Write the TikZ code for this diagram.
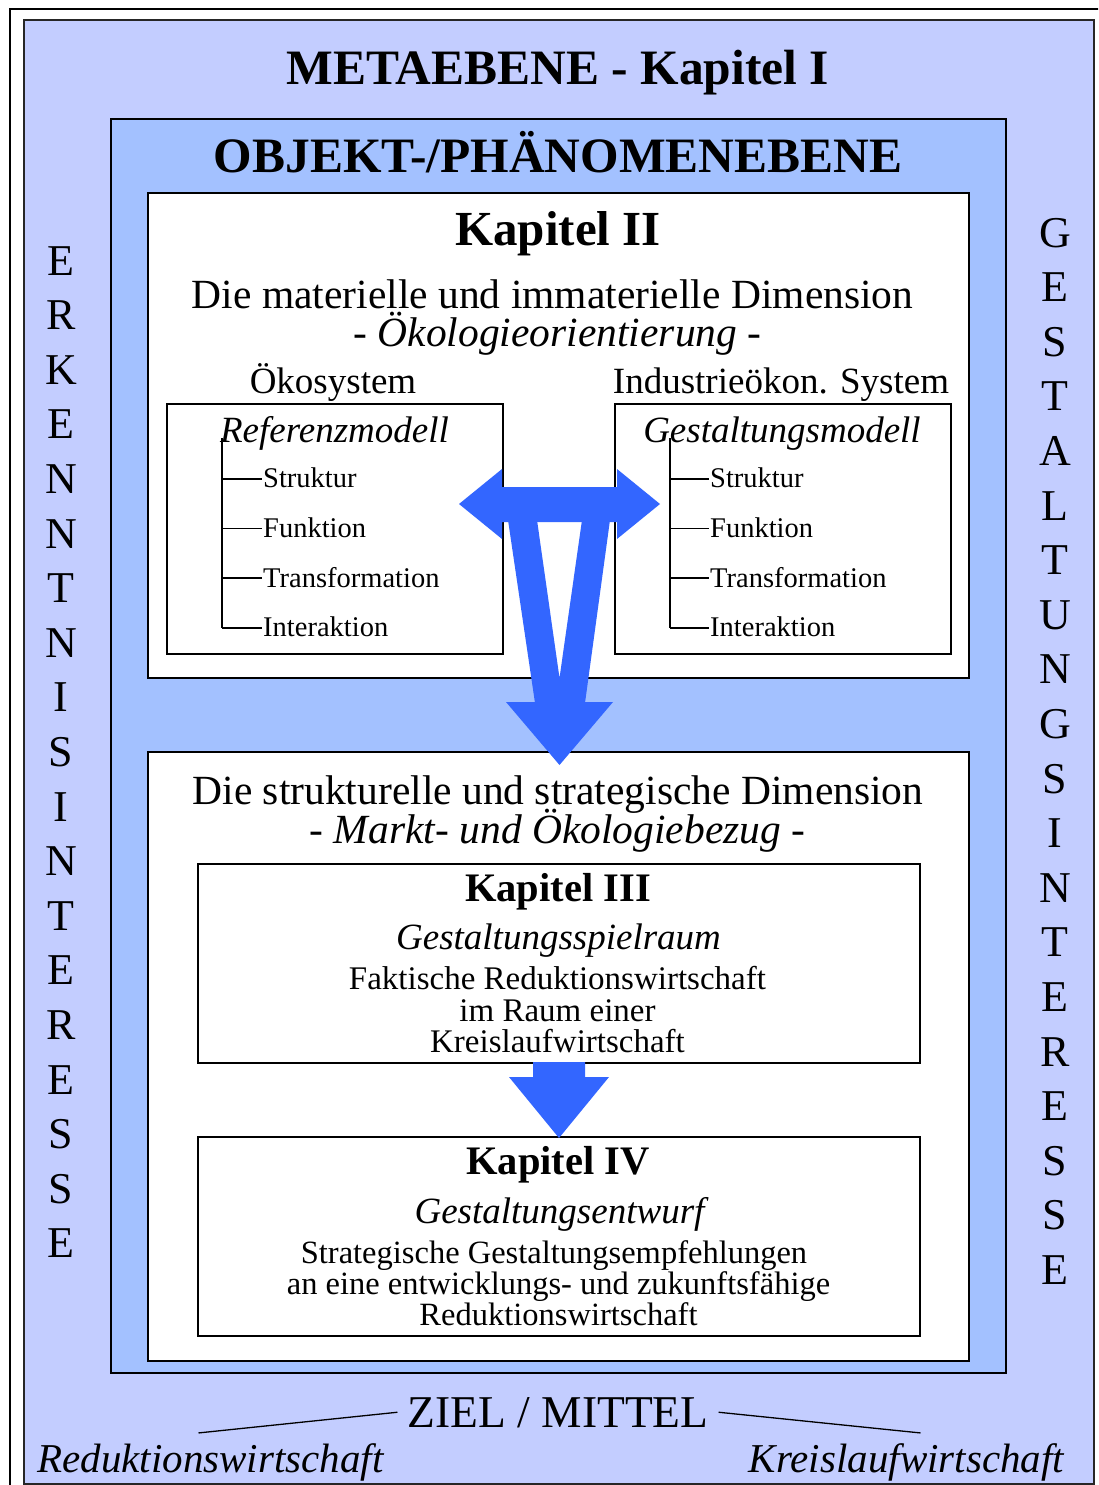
\documentclass[tikz,border=0pt]{standalone}
\usepackage{fontspec}
\setmainfont{Liberation Serif}
\usetikzlibrary{positioning}
\usetikzlibrary{calc}
\definecolor{metablau}{HTML}{C3CDFF}
\definecolor{objektblau}{HTML}{A3C1FF}
\definecolor{pfeilblau}{HTML}{3366FF}

\begin{document}
\begin{tikzpicture}[x=1pt,y=-1pt]
  \tikzset{
    txt/.style={inner sep=0pt,anchor=base,font=\fontsize{#1}{#1}\selectfont},
    ktxt/.style={inner sep=0pt,anchor=base,font=\fontsize{#1}{#1}\selectfont\itshape},
    btxt/.style={inner sep=0pt,anchor=base,font=\fontsize{#1}{#1}\selectfont\bfseries},
    punkt/.style={inner sep=0pt,anchor=base west,font=\fontsize{28.5}{28.5}\selectfont},
    rahmen/.style={line width=1.6pt,fill=white},
    ast/.style={line width=1.6pt},
    pfeil/.style={fill=pfeilblau,draw=none},
  }
    \useasboundingbox (0,0) rectangle (1098,1485);
    \clip (0,0) rectangle (1098,1485);

    %FRAMES
    \draw[line width=2.6pt] (10,9) rectangle (1120,1500);
    \draw[line width=1.2pt,draw=black!85,fill=metablau] (24,20) rectangle (1094,1484);
    \draw[line width=1.8pt,fill=objektblau] (111,119) rectangle (1006,1373);
    \draw[rahmen] (148,193) rectangle (969,678);
    \draw[rahmen] (148,752) rectangle (969,1361);
    \draw[rahmen] (167,404) rectangle (503,654);
    \draw[rahmen] (615,404) rectangle (951,654);
    \draw[rahmen] (198,864) rectangle (920,1063);
    \draw[rahmen] (198,1137) rectangle (920,1336);

    %HEADINGS
    \node[btxt=49.5] (meta) at (558,85) {METAEBENE - Kapitel I};
    \node[btxt=49.5] (objekt) at (558,172) {OBJEKT-/PHÄNOMENEBENE};

    %KAPITEL II
    \node[btxt=49] (kap2) at (558,245) {Kapitel II};
    \node[txt=41.5] (dim1) at (552.5,308) {Die materielle und immaterielle Dimension};
    \node[txt=41.5] (oeko) at (557.5,346) {- \textit{Ökologieorientierung} -};
    \node[txt=37] (oekosys) at (333,393) {Ökosystem};
    \node[txt=37] (indsys) at (781,393) {Industrieökon. System};
    \node[ktxt=37] (refm) at (334.5,442) {Referenzmodell};
    \node[ktxt=37] (gestm) at (782,442) {Gestaltungsmodell};

    \coordinate (lstamm) at (222,438);
    \coordinate (rstamm) at (670,438);
    \foreach \t [count=\i] in {Struktur,Funktion,Transformation,Interaktion} {
      \node[punkt] (l\i) at (263,438+49.7*\i) {\t};
      \node[punkt] (r\i) at (710,438+49.7*\i) {\t};
      \coordinate (la\i) at ($(l\i.base west)+(-1,-9)$);
      \coordinate (ra\i) at ($(r\i.base west)+(-1,-9)$);
      \draw[ast] (la\i -| lstamm) -- (la\i);
      \draw[ast] (ra\i -| rstamm) -- (ra\i);
    }
    \draw[ast] (lstamm) -- (la4 -| lstamm);
    \draw[ast] (rstamm) -- (ra4 -| rstamm);

    %ARROWS
    \fill[pfeil] (459,504) -- (502,469) -- (502,487) -- (617,487) -- (617,469)
      -- (660,504) -- (617,539) -- (617,522) -- (502,522) -- (502,539) -- cycle;
    \fill[pfeil,even odd rule] (508,520) -- (610,520) -- (585,703) -- (535,703) -- cycle
      (537,520) -- (582,520) -- (559.5,678) -- cycle;
    \fill[pfeil] (506,702) -- (613,702) -- (559.5,765) -- cycle;
    \fill[pfeil] (533,1062) -- (585,1062) -- (585,1077) -- (609,1077) -- (559,1138)
      -- (509,1077) -- (533,1077) -- cycle;

    %KAPITEL III / IV
    \node[txt=41.5] (dim2) at (558,804) {Die strukturelle und strategische Dimension};
    \node[txt=41.5] (markt) at (557.5,843) {- \textit{Markt- und Ökologiebezug} -};
    \node[btxt=40.5] (kap3) at (558,901) {Kapitel III};
    \node[ktxt=37] (gsp) at (558.5,949) {Gestaltungsspielraum};
    \node[txt=33] (fak1) at (557.5,989) {Faktische Reduktionswirtschaft};
    \node[txt=33] (fak2) at (557.5,1021) {im Raum einer};
    \node[txt=33] (fak3) at (557.5,1052) {Kreislaufwirtschaft};
    \node[btxt=40.5] (kap4) at (558,1174) {Kapitel IV};
    \node[ktxt=37] (gent) at (559.5,1223) {Gestaltungsentwurf};
    \node[txt=32.5] (str1) at (554,1263) {Strategische Gestaltungsempfehlungen};
    \node[txt=32.5] (str2) at (558.5,1294) {an eine entwicklungs- und zukunftsfähige};
    \node[txt=32.5] (str3) at (558.5,1325) {Reduktionswirtschaft};

    %SIDES
    \foreach \c [count=\i from 0] in {E,R,K,E,N,N,T,N,I,S,I,N,T,E,R,E,S,S,E}
      \node[txt=44] (erk\i) at (61,275+54.6*\i) {\c};
    \foreach \c [count=\i from 0] in {G,E,S,T,A,L,T,U,N,G,S,I,N,T,E,R,E,S,S,E}
      \node[txt=44] (ges\i) at (1055,247+54.6*\i) {\c};

    %ZIEL / MITTEL
    \node[txt=45.5] (ziel) at (558,1427) {ZIEL / MITTEL};
    \node[ktxt=41] (redu) at (210.5,1472) {Reduktionswirtschaft};
    \node[ktxt=41] (kreis) at (906.5,1472) {Kreislaufwirtschaft};
    \draw[line width=1.3pt] ($(redu.north)+(-12,-10)$) -- ($(ziel.west)+(-10,0)$);
    \draw[line width=1.3pt] ($(ziel.east)+(10,0)$) -- ($(kreis.north)+(14,-10)$);
  \end{tikzpicture}
\end{document}
